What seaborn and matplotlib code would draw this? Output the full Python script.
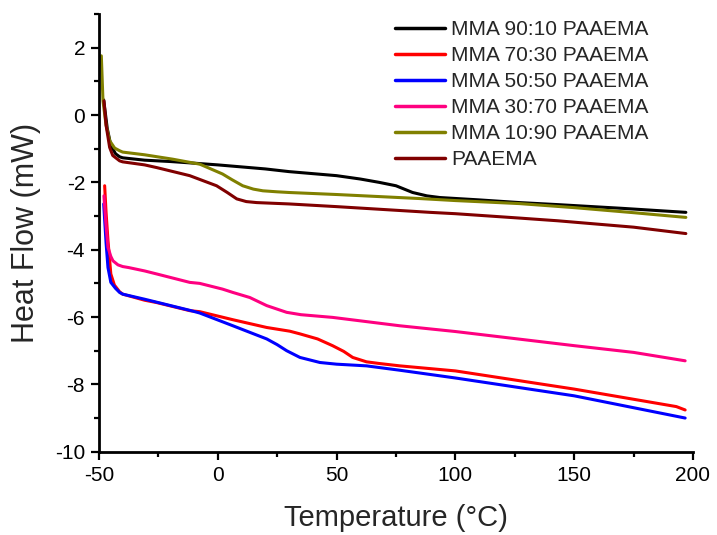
import matplotlib
matplotlib.use("Agg")
import matplotlib.pyplot as plt
from matplotlib.ticker import MultipleLocator
import seaborn as sns
import pandas as pd

sns.set_style("ticks")
plt.rcParams['font.family'] = ['Liberation Sans', 'DejaVu Sans']

series_names = ["MMA 90:10 PAAEMA", "MMA 70:30 PAAEMA", "MMA 50:50 PAAEMA",
                "MMA 30:70 PAAEMA", "MMA 10:90 PAAEMA", "PAAEMA"]
series_colors = ["#000000", "#FF0000", "#0000FF", "#FF0080", "#808000", "#800000"]

t_9010 = [-48.0, -46.5, -45, -43, -41.3, -40, -30.8, -20, -11.8, 0, 10, 20, 30, 40, 50, 60,
          68, 75, 82, 88, 93.5, 110, 127, 143, 170, 197]
hf_9010 = [0.45, -0.4, -0.9, -1.15, -1.24, -1.27, -1.34, -1.38, -1.42, -1.48, -1.54, -1.6,
           -1.68, -1.74, -1.8, -1.9, -2.0, -2.1, -2.3, -2.4, -2.45, -2.52, -2.6, -2.66, -2.77, -2.89]

t_7030 = [-47.6, -47, -46.2, -45, -43.5, -41.3, -40, -30.8, -25.7, -11.8, -7.6, 6.4, 20.6,
          30.3, 34.6, 42, 48.3, 53, 56.8, 62.6, 68, 76.6, 100, 150, 174.8, 193, 196.7]
hf_7030 = [-2.1, -2.9, -3.73, -4.72, -5.05, -5.25, -5.32, -5.5, -5.57, -5.81, -5.84, -6.08,
           -6.31, -6.42, -6.5, -6.65, -6.85, -7.02, -7.2, -7.33, -7.38, -7.45, -7.6, -8.14,
           -8.44, -8.66, -8.76]

t_5050 = [-48, -47, -46.2, -45, -43, -41.3, -40, -30.8, -11.8, -7.6, 6.4, 20.6, 25, 29, 34.6,
          43, 50, 62.6, 76.6, 100, 150, 196.7]
hf_5050 = [-2.64, -3.8, -4.53, -4.97, -5.15, -5.27, -5.32, -5.47, -5.8, -5.88, -6.26, -6.65,
           -6.82, -7.0, -7.2, -7.35, -7.4, -7.45, -7.58, -7.81, -8.34, -9.0]

t_3070 = [-47.9, -47, -46.2, -45, -44.1, -42, -40, -37.5, -30.8, -25.7, -11.8, -7.6, 2, 6.4,
          13.5, 20.6, 24.8, 29, 35, 48.3, 76.7, 100, 150, 175, 196.7]
hf_3070 = [-2.4, -3.3, -3.93, -4.2, -4.33, -4.45, -4.5, -4.53, -4.63, -4.72, -4.97, -5.0,
           -5.17, -5.27, -5.42, -5.66, -5.76, -5.86, -5.93, -6.01, -6.26, -6.43, -6.85, -7.05, -7.3]

t_1090 = [-49, -48.3, -47, -45.5, -43.4, -41.3, -40, -30.8, -19, -7.5, 2, 6, 10.5, 15, 19, 25,
          30, 50, 85, 100, 127, 150, 175, 197]
hf_1090 = [1.76, 0.42, -0.3, -0.76, -0.98, -1.06, -1.1, -1.18, -1.31, -1.46, -1.75, -1.92,
           -2.1, -2.2, -2.25, -2.28, -2.3, -2.36, -2.48, -2.54, -2.63, -2.75, -2.9, -3.04]

t_paaema = [-47.9, -47, -45.5, -44.2, -41.3, -40, -30.8, -25.7, -11.8, -0.5, 4, 8, 12, 16.4,
            30, 50, 89.3, 100, 127, 143, 175, 197]
hf_paaema = [0.42, -0.3, -0.96, -1.2, -1.36, -1.39, -1.48, -1.56, -1.8, -2.1, -2.3, -2.49,
             -2.57, -2.6, -2.64, -2.72, -2.89, -2.93, -3.06, -3.14, -3.33, -3.52]

x_ticks = [-50, 0, 50, 100, 150, 200]
y_ticks = [-10, -8, -6, -4, -2, 0, 2]

all_t = [t_9010, t_7030, t_5050, t_3070, t_1090, t_paaema]
all_hf = [hf_9010, hf_7030, hf_5050, hf_3070, hf_1090, hf_paaema]

frames = []
for name, t, hf in zip(series_names, all_t, all_hf):
    frames.append(pd.DataFrame({"Temperature": t, "HeatFlow": hf, "Sample": name}))
df = pd.concat(frames, ignore_index=True)

fig = plt.figure(figsize=(7.17, 5.35), dpi=100)
ax = fig.add_axes([0.138, 0.1557, 0.8285, 0.818])

sns.lineplot(data=df, x="Temperature", y="HeatFlow", hue="Sample", hue_order=series_names,
             palette=dict(zip(series_names, series_colors)), sort=False, estimator=None,
             units="Sample", linewidth=2.2, ax=ax)

ax.set_xlim(-50, 200)
ax.set_ylim(-10, 3)
ax.set_xticks(x_ticks)
ax.set_yticks(y_ticks)
ax.xaxis.set_minor_locator(MultipleLocator(25))
ax.yaxis.set_minor_locator(MultipleLocator(1))
ax.set_xticklabels([str(v) for v in x_ticks])
ax.set_yticklabels([str(v) for v in y_ticks])
ax.tick_params(axis="both", which="major", direction="out", length=6, width=1.6,
               labelsize=15, pad=4, color="black", labelcolor="black")
ax.tick_params(axis="both", which="minor", direction="out", length=3.5, width=1.6,
               color="black")
for s in ["top", "right"]:
    ax.spines[s].set_visible(False)
for s in ["left", "bottom"]:
    ax.spines[s].set_linewidth(2.0)
    ax.spines[s].set_color("black")

ax.set_xlabel("Temperature (°C)", fontsize=21, labelpad=14)
ax.set_ylabel("Heat Flow (mW)", fontsize=22, labelpad=10)

handles, labels = ax.get_legend_handles_labels()
leg = ax.legend(handles, labels, loc="upper left",
                bbox_to_anchor=(395 / 717, 1 - 20 / 535), bbox_transform=fig.transFigure,
                frameon=False, fontsize=15, borderpad=0, borderaxespad=0,
                handlelength=2.4, handletextpad=0.3, labelspacing=0.34)
for line in leg.get_lines():
    line.set_linewidth(2.5)

fig.savefig("out.png", dpi=100)
